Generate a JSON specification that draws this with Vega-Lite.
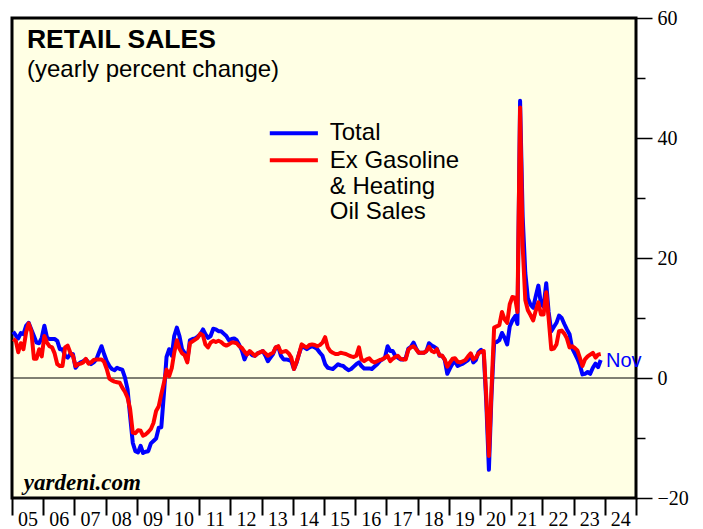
{
"$schema": "https://vega.github.io/schema/vega-lite/v6.json",
"width": 624, "height": 480,
"autosize": "none",
"padding": {"left": 12, "top": 18, "right": 67, "bottom": 31},
"background": "white",
"config": {"view": {"fill": "#ffffe4", "stroke": "black", "strokeWidth": 3}, "font": "Liberation Sans", "axisX": {"labelOverlap": false, "labelSeparation": -12}},
"datasets": {
"retail": [
{"date":"2005-01-15","total":7.7,"exgas":6.5},{"date":"2005-02-15","total":7.1,"exgas":6.2},{"date":"2005-03-15","total":6.6,"exgas":4.3},{"date":"2005-04-15","total":7.5,"exgas":5.8},{"date":"2005-05-15","total":7.3,"exgas":4.8},{"date":"2005-06-15","total":8.7,"exgas":7.6},{"date":"2005-07-15","total":9.2,"exgas":9.1},{"date":"2005-08-15","total":8.1,"exgas":7.8},{"date":"2005-09-15","total":7.0,"exgas":3.2},{"date":"2005-10-15","total":5.9,"exgas":3.2},{"date":"2005-11-15","total":5.8,"exgas":4.8},{"date":"2005-12-15","total":6.7,"exgas":3.6},
{"date":"2006-01-15","total":8.7,"exgas":7.0},{"date":"2006-02-15","total":6.7,"exgas":5.9},{"date":"2006-03-15","total":6.5,"exgas":5.3},{"date":"2006-04-15","total":6.5,"exgas":5.1},{"date":"2006-05-15","total":6.5,"exgas":4.1},{"date":"2006-06-15","total":6.2,"exgas":2.3},{"date":"2006-07-15","total":4.8,"exgas":2.0},{"date":"2006-08-15","total":4.8,"exgas":2.0},{"date":"2006-09-15","total":3.7,"exgas":5.1},{"date":"2006-10-15","total":3.4,"exgas":5.4},{"date":"2006-11-15","total":4.0,"exgas":4.2},{"date":"2006-12-15","total":4.0,"exgas":3.7},
{"date":"2007-01-15","total":1.7,"exgas":2.0},{"date":"2007-02-15","total":2.3,"exgas":2.3},{"date":"2007-03-15","total":2.6,"exgas":2.4},{"date":"2007-04-15","total":2.8,"exgas":2.6},{"date":"2007-05-15","total":3.1,"exgas":3.2},{"date":"2007-06-15","total":2.6,"exgas":2.4},{"date":"2007-07-15","total":2.3,"exgas":2.6},{"date":"2007-08-15","total":2.6,"exgas":3.0},{"date":"2007-09-15","total":3.1,"exgas":3.1},{"date":"2007-10-15","total":4.2,"exgas":3.1},{"date":"2007-11-15","total":5.3,"exgas":3.1},{"date":"2007-12-15","total":4.0,"exgas":2.7},
{"date":"2008-01-15","total":2.8,"exgas":1.5},{"date":"2008-02-15","total":2.0,"exgas":-0.1},{"date":"2008-03-15","total":1.5,"exgas":-0.4},{"date":"2008-04-15","total":1.3,"exgas":-0.6},{"date":"2008-05-15","total":1.7,"exgas":-0.7},{"date":"2008-06-15","total":1.5,"exgas":-0.8},{"date":"2008-07-15","total":1.4,"exgas":-1.6},{"date":"2008-08-15","total":0.1,"exgas":-2.3},{"date":"2008-09-15","total":-1.9,"exgas":-3.3},{"date":"2008-10-15","total":-6.4,"exgas":-5.2},{"date":"2008-11-15","total":-10.8,"exgas":-9.1},{"date":"2008-12-15","total":-12.2,"exgas":-9.2},
{"date":"2009-01-15","total":-12.4,"exgas":-8.7},{"date":"2009-02-15","total":-11.3,"exgas":-8.8},{"date":"2009-03-15","total":-12.5,"exgas":-9.6},{"date":"2009-04-15","total":-12.3,"exgas":-9.4},{"date":"2009-05-15","total":-12.2,"exgas":-9.0},{"date":"2009-06-15","total":-10.9,"exgas":-8.5},{"date":"2009-07-15","total":-10.5,"exgas":-7.5},{"date":"2009-08-15","total":-10.1,"exgas":-5.5},{"date":"2009-09-15","total":-8.3,"exgas":-4.7},{"date":"2009-10-15","total":-8.2,"exgas":-2.7},{"date":"2009-11-15","total":-2.5,"exgas":-0.8},{"date":"2009-12-15","total":3.5,"exgas":1.4},
{"date":"2010-01-15","total":4.8,"exgas":0.3},{"date":"2010-02-15","total":3.7,"exgas":1.7},{"date":"2010-03-15","total":7.0,"exgas":4.2},{"date":"2010-04-15","total":8.4,"exgas":6.3},{"date":"2010-05-15","total":7.0,"exgas":4.9},{"date":"2010-06-15","total":4.8,"exgas":4.1},{"date":"2010-07-15","total":4.2,"exgas":3.8},{"date":"2010-08-15","total":2.9,"exgas":2.6},{"date":"2010-09-15","total":6.3,"exgas":5.8},{"date":"2010-10-15","total":6.5,"exgas":6.1},{"date":"2010-11-15","total":6.6,"exgas":6.4},{"date":"2010-12-15","total":6.9,"exgas":6.7},
{"date":"2011-01-15","total":7.3,"exgas":7.4},{"date":"2011-02-15","total":8.1,"exgas":7.1},{"date":"2011-03-15","total":7.3,"exgas":5.6},{"date":"2011-04-15","total":6.7,"exgas":5.1},{"date":"2011-05-15","total":7.0,"exgas":5.9},{"date":"2011-06-15","total":8.2,"exgas":6.2},{"date":"2011-07-15","total":8.1,"exgas":6.0},{"date":"2011-08-15","total":7.8,"exgas":6.2},{"date":"2011-09-15","total":7.8,"exgas":6.0},{"date":"2011-10-15","total":7.4,"exgas":5.6},{"date":"2011-11-15","total":7.0,"exgas":5.4},{"date":"2011-12-15","total":6.3,"exgas":5.6},
{"date":"2012-01-15","total":6.5,"exgas":5.9},{"date":"2012-02-15","total":6.6,"exgas":5.9},{"date":"2012-03-15","total":6.3,"exgas":5.8},{"date":"2012-04-15","total":5.5,"exgas":5.3},{"date":"2012-05-15","total":4.6,"exgas":5.0},{"date":"2012-06-15","total":3.1,"exgas":4.4},{"date":"2012-07-15","total":4.1,"exgas":3.9},{"date":"2012-08-15","total":4.2,"exgas":4.5},{"date":"2012-09-15","total":3.8,"exgas":4.1},{"date":"2012-10-15","total":3.7,"exgas":3.7},{"date":"2012-11-15","total":4.1,"exgas":4.1},{"date":"2012-12-15","total":4.3,"exgas":4.3},
{"date":"2013-01-15","total":4.5,"exgas":4.5},{"date":"2013-02-15","total":3.7,"exgas":4.1},{"date":"2013-03-15","total":2.8,"exgas":3.7},{"date":"2013-04-15","total":3.4,"exgas":4.0},{"date":"2013-05-15","total":4.0,"exgas":4.2},{"date":"2013-06-15","total":5.1,"exgas":5.1},{"date":"2013-07-15","total":5.2,"exgas":5.3},{"date":"2013-08-15","total":3.7,"exgas":4.3},{"date":"2013-09-15","total":3.1,"exgas":4.4},{"date":"2013-10-15","total":3.1,"exgas":4.5},{"date":"2013-11-15","total":3.0,"exgas":4.1},{"date":"2013-12-15","total":2.8,"exgas":3.4},
{"date":"2014-01-15","total":1.5,"exgas":1.5},{"date":"2014-02-15","total":2.6,"exgas":2.7},{"date":"2014-03-15","total":4.0,"exgas":4.0},{"date":"2014-04-15","total":5.3,"exgas":5.6},{"date":"2014-05-15","total":5.1,"exgas":5.3},{"date":"2014-06-15","total":4.8,"exgas":5.1},{"date":"2014-07-15","total":5.1,"exgas":5.5},{"date":"2014-08-15","total":5.3,"exgas":5.6},{"date":"2014-09-15","total":5.1,"exgas":5.5},{"date":"2014-10-15","total":4.8,"exgas":5.3},{"date":"2014-11-15","total":4.2,"exgas":5.5},{"date":"2014-12-15","total":3.7,"exgas":5.9},
{"date":"2015-01-15","total":2.3,"exgas":6.8},{"date":"2015-02-15","total":1.7,"exgas":5.1},{"date":"2015-03-15","total":1.6,"exgas":4.5},{"date":"2015-04-15","total":1.5,"exgas":4.2},{"date":"2015-05-15","total":1.9,"exgas":4.0},{"date":"2015-06-15","total":2.3,"exgas":4.0},{"date":"2015-07-15","total":2.1,"exgas":4.2},{"date":"2015-08-15","total":2.0,"exgas":4.1},{"date":"2015-09-15","total":1.6,"exgas":4.0},{"date":"2015-10-15","total":1.3,"exgas":3.8},{"date":"2015-11-15","total":1.5,"exgas":3.6},{"date":"2015-12-15","total":1.9,"exgas":3.5},
{"date":"2016-01-15","total":2.3,"exgas":3.7},{"date":"2016-02-15","total":2.6,"exgas":5.1},{"date":"2016-03-15","total":2.0,"exgas":3.1},{"date":"2016-04-15","total":1.6,"exgas":2.8},{"date":"2016-05-15","total":1.6,"exgas":3.1},{"date":"2016-06-15","total":1.6,"exgas":3.3},{"date":"2016-07-15","total":1.5,"exgas":2.8},{"date":"2016-08-15","total":1.9,"exgas":2.6},{"date":"2016-09-15","total":2.3,"exgas":2.8},{"date":"2016-10-15","total":2.8,"exgas":3.0},{"date":"2016-11-15","total":3.1,"exgas":3.1},{"date":"2016-12-15","total":3.4,"exgas":3.4},
{"date":"2017-01-15","total":5.3,"exgas":3.7},{"date":"2017-02-15","total":4.5,"exgas":2.8},{"date":"2017-03-15","total":4.5,"exgas":3.2},{"date":"2017-04-15","total":3.7,"exgas":3.5},{"date":"2017-05-15","total":3.4,"exgas":3.7},{"date":"2017-06-15","total":3.1,"exgas":3.2},{"date":"2017-07-15","total":3.1,"exgas":3.1},{"date":"2017-08-15","total":3.3,"exgas":3.1},{"date":"2017-09-15","total":4.9,"exgas":4.7},{"date":"2017-10-15","total":5.2,"exgas":5.1},{"date":"2017-11-15","total":5.9,"exgas":5.3},{"date":"2017-12-15","total":4.9,"exgas":4.8},
{"date":"2018-01-15","total":4.2,"exgas":4.2},{"date":"2018-02-15","total":4.2,"exgas":4.2},{"date":"2018-03-15","total":4.2,"exgas":4.2},{"date":"2018-04-15","total":4.5,"exgas":4.5},{"date":"2018-05-15","total":5.8,"exgas":5.2},{"date":"2018-06-15","total":5.4,"exgas":4.5},{"date":"2018-07-15","total":5.2,"exgas":4.3},{"date":"2018-08-15","total":4.9,"exgas":4.8},{"date":"2018-09-15","total":3.7,"exgas":3.8},{"date":"2018-10-15","total":3.7,"exgas":3.7},{"date":"2018-11-15","total":3.0,"exgas":3.1},{"date":"2018-12-15","total":0.7,"exgas":1.9},
{"date":"2019-01-15","total":1.6,"exgas":2.6},{"date":"2019-02-15","total":2.4,"exgas":3.2},{"date":"2019-03-15","total":2.8,"exgas":3.3},{"date":"2019-04-15","total":2.0,"exgas":2.7},{"date":"2019-05-15","total":2.2,"exgas":2.6},{"date":"2019-06-15","total":2.4,"exgas":2.8},{"date":"2019-07-15","total":2.7,"exgas":3.0},{"date":"2019-08-15","total":3.0,"exgas":3.6},{"date":"2019-09-15","total":4.0,"exgas":4.1},{"date":"2019-10-15","total":2.6,"exgas":3.1},{"date":"2019-11-15","total":3.0,"exgas":3.4},{"date":"2019-12-15","total":4.3,"exgas":4.1},
{"date":"2020-01-15","total":4.7,"exgas":4.4},{"date":"2020-02-15","total":4.0,"exgas":4.5},{"date":"2020-03-15","total":-4.0,"exgas":-3.0},{"date":"2020-04-15","total":-15.3,"exgas":-13.0},{"date":"2020-05-15","total":-3.0,"exgas":-2.0},{"date":"2020-06-15","total":5.9,"exgas":8.4},{"date":"2020-07-15","total":6.0,"exgas":8.6},{"date":"2020-08-15","total":6.3,"exgas":8.8},{"date":"2020-09-15","total":7.5,"exgas":11.0},{"date":"2020-10-15","total":6.7,"exgas":9.8},{"date":"2020-11-15","total":5.6,"exgas":9.2},{"date":"2020-12-15","total":8.6,"exgas":12.3},
{"date":"2021-01-15","total":9.6,"exgas":13.5},{"date":"2021-02-15","total":10.3,"exgas":13.4},{"date":"2021-03-15","total":9.0,"exgas":11.0},{"date":"2021-04-15","total":46.2,"exgas":45.1},{"date":"2021-05-15","total":27.0,"exgas":22.0},{"date":"2021-06-15","total":17.5,"exgas":13.0},{"date":"2021-07-15","total":13.3,"exgas":11.3},{"date":"2021-08-15","total":12.2,"exgas":10.5},{"date":"2021-09-15","total":11.7,"exgas":9.6},{"date":"2021-10-15","total":13.6,"exgas":11.2},{"date":"2021-11-15","total":15.4,"exgas":12.6},{"date":"2021-12-15","total":12.4,"exgas":10.6},
{"date":"2022-01-15","total":11.9,"exgas":10.6},{"date":"2022-02-15","total":15.8,"exgas":14.3},{"date":"2022-03-15","total":11.0,"exgas":10.0},{"date":"2022-04-15","total":7.8,"exgas":4.8},{"date":"2022-05-15","total":8.5,"exgas":4.9},{"date":"2022-06-15","total":9.2,"exgas":5.6},{"date":"2022-07-15","total":10.4,"exgas":7.8},{"date":"2022-08-15","total":10.0,"exgas":7.9},{"date":"2022-09-15","total":9.0,"exgas":7.4},{"date":"2022-10-15","total":8.1,"exgas":6.6},{"date":"2022-11-15","total":7.3,"exgas":5.1},{"date":"2022-12-15","total":5.0,"exgas":5.3},
{"date":"2023-01-15","total":4.1,"exgas":5.0},{"date":"2023-02-15","total":3.2,"exgas":4.6},{"date":"2023-03-15","total":2.2,"exgas":3.4},{"date":"2023-04-15","total":0.6,"exgas":2.0},{"date":"2023-05-15","total":0.7,"exgas":3.1},{"date":"2023-06-15","total":1.0,"exgas":3.6},{"date":"2023-07-15","total":0.7,"exgas":3.9},{"date":"2023-08-15","total":1.7,"exgas":4.2},{"date":"2023-09-15","total":2.4,"exgas":3.4},{"date":"2023-10-15","total":1.8,"exgas":3.9},{"date":"2023-11-15","total":3.0,"exgas":4.0}
]
},
"layer": [
{
"data": {"values": [{}]},
"mark": {"type": "rule", "color": "black", "strokeWidth": 1},
"encoding": {"y": {"datum": 0, "type": "quantitative"}}
},
{
"data": {"name": "retail"},
"mark": {"type": "line", "color": "#0000ff", "strokeWidth": 4, "strokeJoin": "round"},
"encoding": {
"x": {"field": "date", "type": "temporal",
"scale": {"domain": [{"year": 2005, "month": 1, "date": 1}, {"year": 2025, "month": 1, "date": 1}]},
"axis": {"title": null,
"tickCount": {"interval": "year", "step": 1},
"labelExpr": "year(datum.value) >= 2025 ? '' : timeFormat(datum.value, '%y')",
"domain": false, "grid": false,
"tickSize": 17, "tickWidth": 2, "tickColor": "black",
"labelOffset": 15.6, "labelAlign": "center", "labelBaseline": "top", "labelPadding": -6,
"labelFont": "Liberation Serif", "labelFontSize": 20, "labelColor": "black",
"labelOverlap": false, "labelSeparation": -12, "labelBound": false, "labelFlush": false}},
"y": {"field": "total", "type": "quantitative",
"scale": {"domain": [-20, 60], "nice": false, "zero": false},
"axis": {"title": null, "orient": "right",
"values": [-20, -10, 0, 10, 20, 30, 40, 50, 60],
"labelExpr": "datum.value % 20 == 0 ? datum.label : ''",
"tickSize": {"condition": {"test": "datum.value % 20 == 0", "value": 16}, "value": 9},
"tickWidth": 1.5, "tickColor": "black",
"domain": false, "grid": false,
"labelPadding": 5, "labelFont": "Liberation Serif", "labelFontSize": 20, "labelColor": "black",
"labelOverlap": false, "labelBound": false, "labelFlush": false}}
}
},
{
"data": {"name": "retail"},
"mark": {"type": "line", "color": "#ff0000", "strokeWidth": 4, "strokeJoin": "round"},
"encoding": {
"x": {"field": "date", "type": "temporal"},
"y": {"field": "exgas", "type": "quantitative"}
}
},
{
"data": {"values": [{}]},
"mark": {"type": "rule", "color": "#0000ff", "strokeWidth": 4},
"encoding": {
"x": {"datum": {"year": 2013, "month": 4, "date": 7}, "type": "temporal"},
"x2": {"datum": {"year": 2014, "month": 10, "date": 22}},
"y": {"datum": 40.8, "type": "quantitative"}
}
},
{
"data": {"values": [{}]},
"mark": {"type": "rule", "color": "#ff0000", "strokeWidth": 4},
"encoding": {
"x": {"datum": {"year": 2013, "month": 4, "date": 7}, "type": "temporal"},
"x2": {"datum": {"year": 2014, "month": 10, "date": 22}},
"y": {"datum": 36.3, "type": "quantitative"}
}
},
{
"data": {"values": [{}]},
"mark": {"type": "text", "text": "Total", "font": "Liberation Sans", "fontSize": 24, "align": "left", "baseline": "middle", "color": "black"},
"encoding": {"x": {"datum": {"year": 2015, "month": 3, "date": 10}, "type": "temporal"}, "y": {"datum": 40.8, "type": "quantitative"}}
},
{
"data": {"values": [{}]},
"mark": {"type": "text", "text": "Ex Gasoline", "font": "Liberation Sans", "fontSize": 24, "align": "left", "baseline": "middle", "color": "black"},
"encoding": {"x": {"datum": {"year": 2015, "month": 3, "date": 10}, "type": "temporal"}, "y": {"datum": 36.2, "type": "quantitative"}}
},
{
"data": {"values": [{}]},
"mark": {"type": "text", "text": "& Heating", "font": "Liberation Sans", "fontSize": 24, "align": "left", "baseline": "middle", "color": "black"},
"encoding": {"x": {"datum": {"year": 2015, "month": 3, "date": 10}, "type": "temporal"}, "y": {"datum": 31.8, "type": "quantitative"}}
},
{
"data": {"values": [{}]},
"mark": {"type": "text", "text": "Oil Sales", "font": "Liberation Sans", "fontSize": 24, "align": "left", "baseline": "middle", "color": "black"},
"encoding": {"x": {"datum": {"year": 2015, "month": 3, "date": 10}, "type": "temporal"}, "y": {"datum": 27.6, "type": "quantitative"}}
},
{
"data": {"values": [{}]},
"mark": {"type": "text", "text": "RETAIL SALES", "font": "Liberation Sans", "fontSize": 26.5, "fontWeight": "bold", "align": "left", "baseline": "alphabetic", "color": "black"},
"encoding": {"x": {"datum": {"year": 2005, "month": 6, "date": 25}, "type": "temporal"}, "y": {"datum": 55.0, "type": "quantitative"}}
},
{
"data": {"values": [{}]},
"mark": {"type": "text", "text": "(yearly percent change)", "font": "Liberation Sans", "fontSize": 24, "align": "left", "baseline": "alphabetic", "color": "black"},
"encoding": {"x": {"datum": {"year": 2005, "month": 6, "date": 25}, "type": "temporal"}, "y": {"datum": 50.1, "type": "quantitative"}}
},
{
"data": {"values": [{}]},
"mark": {"type": "text", "text": "yardeni.com", "font": "Liberation Serif", "fontSize": 23, "fontWeight": "bold", "fontStyle": "italic", "align": "left", "baseline": "alphabetic", "color": "black"},
"encoding": {"x": {"datum": {"year": 2005, "month": 5, "date": 20}, "type": "temporal"}, "y": {"datum": -18.6, "type": "quantitative"}}
},
{
"data": {"values": [{}]},
"mark": {"type": "text", "text": "Nov", "font": "Liberation Sans", "fontSize": 20, "align": "left", "baseline": "alphabetic", "color": "#0000ff"},
"encoding": {"x": {"datum": {"year": 2024, "month": 1, "date": 15}, "type": "temporal"}, "y": {"datum": 1.8, "type": "quantitative"}}
}
]
}
